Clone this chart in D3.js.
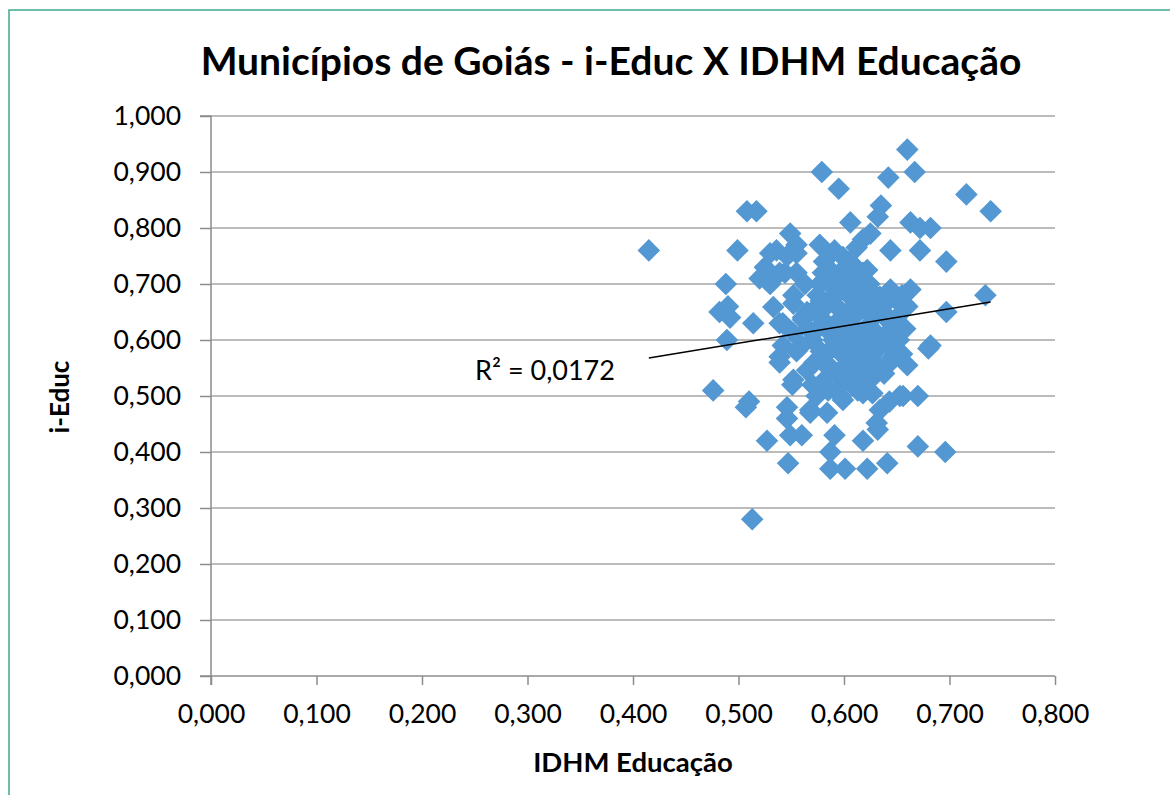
<!DOCTYPE html>
<html><head><meta charset="utf-8">
<script src="https://cdn.jsdelivr.net/npm/d3@7"></script>
<style>body{margin:0;background:#fff}svg{display:block}</style>
</head><body>
<script>
const chartTitle = "Municípios de Goiás - i-Educ X IDHM Educação";
const xTitle = "IDHM Educação";
const yTitle = "i-Educ";
const xTicks = [0,0.1,0.2,0.3,0.4,0.5,0.6,0.7,0.8];
const yTicks = [0,0.1,0.2,0.3,0.4,0.5,0.6,0.7,0.8,0.9,1.0];
const rSquaredLabel = "R² = 0,0172";
const trendSlope = 0.3077;
const trendIntercept = 0.4403;

const idhmEduc = [
0.415,0.476,0.482,0.488,0.490,0.492,0.489,0.499,0.507,0.510,0.508,0.517,0.514,0.513,0.520,0.525,0.527,0.530,0.536,0.539,
0.542,0.539,0.544,0.546,0.546,0.546,0.547,0.549,0.551,0.549,0.552,0.555,0.555,0.555,0.560,0.561,0.563,0.565,0.568,0.577,
0.579,0.578,0.580,0.584,0.587,0.587,0.591,0.595,0.601,0.606,0.618,0.622,0.625,0.618,0.632,0.634,0.631,0.635,0.632,0.641,
0.644,0.643,0.642,0.646,0.653,0.656,0.660,0.663,0.667,0.663,0.670,0.670,0.672,0.672,0.682,0.680,0.682,0.697,0.697,0.696,
0.716,0.734,0.739,0.653,0.644,0.634,0.622,0.641,0.653,0.634,0.646,0.625,0.627,0.618,0.627,0.618,0.622,0.599,0.587,0.577,
0.590,0.606,0.615,0.571,0.561,0.552,0.533,0.542,0.539,0.530,0.555,0.539,0.552,0.568,0.565,0.584,0.603,0.599,0.615,0.615,
0.552,0.584,0.570,0.575,0.578,0.580,0.582,0.585,0.588,0.590,0.592,0.593,0.595,0.596,0.598,0.600,0.600,0.602,0.604,0.605,
0.607,0.608,0.610,0.610,0.612,0.612,0.614,0.616,0.618,0.620,0.620,0.622,0.624,0.625,0.628,0.630,0.630,0.632,0.635,0.637,
0.638,0.640,0.642,0.645,0.648,0.650,0.652,0.655,0.658,0.660,0.575,0.572,0.578,0.583,0.586,0.594,0.597,0.603,0.606,0.609,
0.613,0.617,0.621,0.626,0.588,0.566,0.560,0.570,0.574,0.581,0.596,0.604,0.611,0.591,0.612,0.655,0.660
];
const iEduc = [
0.76,0.51,0.65,0.70,0.66,0.64,0.60,0.76,0.48,0.49,0.83,0.83,0.63,0.28,0.71,0.73,0.42,0.70,0.76,0.63,
0.59,0.56,0.72,0.75,0.46,0.48,0.38,0.79,0.52,0.43,0.68,0.77,0.58,0.72,0.43,0.64,0.70,0.65,0.47,0.77,
0.90,0.67,0.72,0.47,0.37,0.40,0.43,0.87,0.37,0.81,0.42,0.37,0.79,0.78,0.44,0.475,0.452,0.84,0.82,0.38,
0.76,0.49,0.89,0.57,0.50,0.50,0.94,0.81,0.90,0.69,0.50,0.41,0.76,0.80,0.80,0.585,0.59,0.74,0.65,0.40,
0.86,0.68,0.83,0.665,0.69,0.677,0.659,0.636,0.612,0.588,0.564,0.529,0.505,0.505,0.534,0.72,0.725,0.748,0.725,0.70,
0.677,0.677,0.653,0.653,0.636,0.665,0.659,0.63,0.72,0.755,0.755,0.57,0.529,0.475,0.546,0.577,0.546,0.493,0.588,0.516,
0.612,0.618,0.60,0.62,0.64,0.56,0.53,0.51,0.55,0.60,0.63,0.66,0.58,0.69,0.52,0.61,0.71,0.64,0.56,0.74,
0.59,0.68,0.62,0.53,0.70,0.57,0.65,0.60,0.55,0.67,0.62,0.58,0.70,0.60,0.64,0.56,0.68,0.61,0.59,0.65,
0.54,0.60,0.67,0.62,0.58,0.64,0.60,0.68,0.62,0.66,0.68,0.56,0.58,0.66,0.70,0.54,0.50,0.58,0.63,0.66,
0.51,0.69,0.53,0.66,0.62,0.62,0.59,0.52,0.50,0.74,0.72,0.72,0.73,0.76,0.765,0.575,0.555
];

const W = 1170, H = 795;
const svg = d3.select("body").append("svg").attr("width", W).attr("height", H);
svg.append("rect").attr("width", W).attr("height", H).attr("fill", "#fff");

// outer frame
svg.append("path").attr("d", `M9,${H} L9,10 L${W},10`).attr("fill","none")
  .attr("stroke","#3fa98f").attr("stroke-width",1.5);

const font = "Lato, 'Open Sans', sans-serif";
const x = d3.scaleLinear().domain([0, 0.8]).range([211, 1055]);
const y = d3.scaleLinear().domain([0, 1.0]).range([676, 116]);
const fmt = v => d3.format(".3f")(v).replace(".", ",");

// gridlines
svg.append("g").selectAll("line").data(yTicks.filter(d => d > 0)).join("line")
  .attr("x1", x(0)).attr("x2", x(0.8)).attr("y1", d => y(d)).attr("y2", d => y(d))
  .attr("stroke", "#a6a6a6").attr("stroke-width", 1.5);

// axes
const yAxis = svg.append("g").attr("transform", `translate(${x(0)},0)`)
  .call(d3.axisLeft(y).tickValues(yTicks).tickFormat(fmt).tickSize(11).tickPadding(19));
const xAxis = svg.append("g").attr("transform", `translate(0,${y(0)})`)
  .call(d3.axisBottom(x).tickValues(xTicks).tickFormat(fmt).tickSize(9).tickPadding(19));
[xAxis, yAxis].forEach(a => {
  a.select(".domain").attr("stroke", "#8c8c8c").attr("stroke-width", 1.5);
  a.selectAll(".tick line").attr("stroke", "#8c8c8c").attr("stroke-width", 1.5);
  a.selectAll("text").attr("font-family", font).attr("font-size", 26.5).attr("fill", "#000");
});
yAxis.select(".domain").attr("d", `M-11,${y(1)}H0V${y(0)+9}`);
xAxis.select(".domain").attr("d", `M${x(0)-11},0H${x(0.8)}`);

// points
const pts = idhmEduc.map((v, i) => [v, iEduc[i]]);
const r = 11.3;
svg.append("g").selectAll("path").data(pts).join("path")
  .attr("d", `M0,${-r}L${r},0L0,${r}L${-r},0Z`)
  .attr("transform", d => `translate(${x(d[0])},${y(d[1])})`)
  .attr("fill", "#5398d2");

// trendline
const xmin = d3.min(idhmEduc), xmax = d3.max(idhmEduc);
svg.append("line")
  .attr("x1", x(xmin)).attr("y1", y(trendIntercept + trendSlope * xmin))
  .attr("x2", x(xmax)).attr("y2", y(trendIntercept + trendSlope * xmax))
  .attr("stroke", "#000").attr("stroke-width", 1.5);

svg.append("text").attr("x", 545).attr("y", 380).attr("text-anchor", "middle")
  .attr("font-family", font).attr("font-size", 27).text(rSquaredLabel);

// titles
svg.append("text").attr("x", 611).attr("y", 75).attr("text-anchor", "middle")
  .attr("font-family", font).attr("font-weight", "bold").attr("font-size", 39).text(chartTitle);
svg.append("text").attr("x", 633).attr("y", 772).attr("text-anchor", "middle")
  .attr("font-family", font).attr("font-weight", "bold").attr("font-size", 27.5).text(xTitle);
svg.append("text").attr("transform", "translate(69,397) rotate(-90)").attr("text-anchor", "middle")
  .attr("font-family", font).attr("font-weight", "bold").attr("font-size", 26).text(yTitle);
</script>
</body></html>
